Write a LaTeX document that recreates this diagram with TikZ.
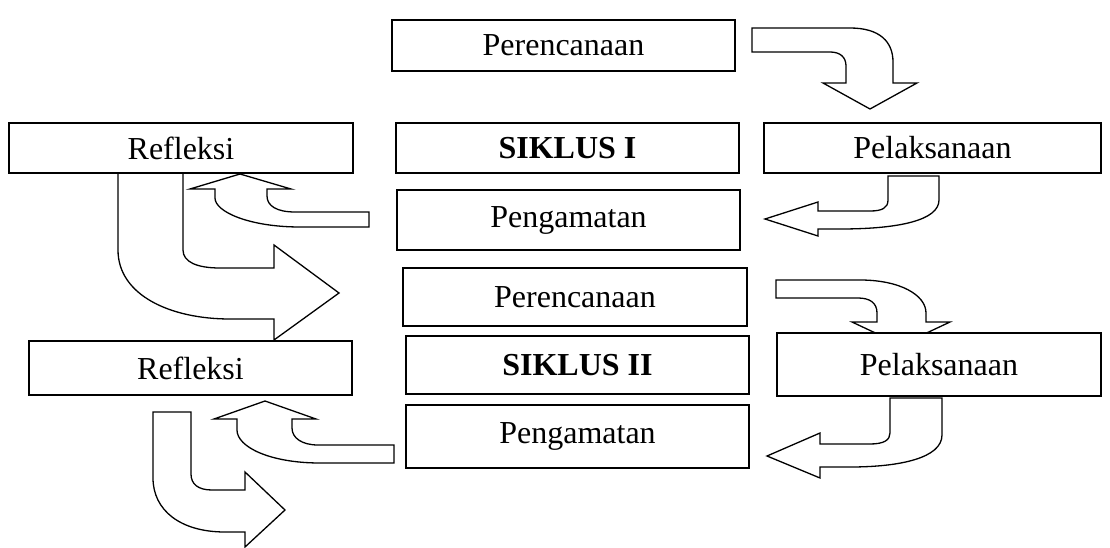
\documentclass[tikz,border=0pt]{standalone}
\usepackage{fontspec}
\setmainfont{Liberation Serif}
\begin{document}
\begin{tikzpicture}[x=1pt,y=-1pt,
  box/.style={draw, fill=white, line width=1.3pt, inner sep=0pt, font=\fontsize{32}{38}\selectfont},
  barrow/.style={draw, fill=white, line width=1.3pt, line join=miter}]
\useasboundingbox (0,0) rectangle (1110,548);
% block arrows
\draw[barrow] (752,28) -- (850,28) .. controls (880,28) and (893,42) .. (893,62) -- (893,83) -- (917,83) -- (870,109) -- (823,83) -- (846,83) -- (846,66) .. controls (846,57) and (840,52) .. (830,52) -- (752,52) -- cycle;
\draw[barrow] (888,176) -- (939,176) -- (939,200) .. controls (939,220) and (900,229) .. (840,229) -- (818,229) -- (818,236) -- (765,219) -- (818,202) -- (818,211) -- (870,211) .. controls (882,211) and (888,208) .. (888,200) -- cycle;
\draw[barrow] (190,189) -- (240,174) -- (291,189) -- (267,189) -- (267,196) .. controls (267,206) and (277,212) .. (295,212) -- (369,212) -- (369,227) -- (300,227) .. controls (250,227) and (215,212) .. (215,198) -- (215,189) -- cycle;
\draw[barrow] (118,173) -- (183,173) -- (183,250) .. controls (183,262) and (197,268) .. (220,268) -- (274,268) -- (274,245) -- (339,293) -- (274,340) -- (274,319) -- (230,319) .. controls (170,319) and (118,295) .. (118,250) -- cycle;
\draw[barrow] (776,280) -- (860,280) .. controls (900,280) and (926,295) .. (926,313) -- (926,322) -- (950,322) -- (901,345) -- (852,322) -- (877,322) -- (877,313) .. controls (877,303) and (870,298) .. (858,298) -- (776,298) -- cycle;
\draw[barrow] (890,398) -- (942,398) -- (942,435) .. controls (942,458) and (900,467) .. (850,467) -- (820,467) -- (820,478) -- (767,456) -- (820,433) -- (820,444) -- (870,444) .. controls (884,444) and (890,440) .. (890,433) -- cycle;
\draw[barrow] (214,419) -- (265,401) -- (316,419) -- (292,419) -- (292,428) .. controls (292,438) and (302,445) .. (318,445) -- (394,445) -- (394,463) -- (320,463) .. controls (270,463) and (237,447) .. (237,430) -- (237,419) -- cycle;
\draw[barrow] (153,412) -- (191,412) -- (191,474) .. controls (191,484) and (198,490) .. (212,490) -- (245,490) -- (245,472) -- (285,510) -- (245,547) -- (245,532) -- (225,532) .. controls (180,532) and (153,510) .. (153,478) -- cycle;
% boxes
\node[box, minimum width=343pt, minimum height=51pt] (p1) at (563.5,45.5) {Perencanaan};
\node[box, minimum width=344pt, minimum height=50pt] (r1) at (181,148) {Refleksi};
\node[box, minimum width=343pt, minimum height=50pt] (s1) at (567.5,148) {\textbf{SIKLUS I}};
\node[box, minimum width=337pt, minimum height=50pt] (l1) at (932.5,148) {Pelaksanaan};
\node[box, minimum width=343pt, minimum height=60pt] (g1) at (568.5,220) {Pengamatan};
\node[box, minimum width=344pt, minimum height=58pt] (p2) at (575,297) {Perencanaan};
\node[box, minimum width=323pt, minimum height=54pt] (r2) at (190.5,368) {Refleksi};
\node[box, minimum width=343pt, minimum height=58pt] (s2) at (577.5,365) {\textbf{SIKLUS II}};
\node[box, minimum width=324pt, minimum height=63pt] (l2) at (939,364.5) {Pelaksanaan};
\node[box, minimum width=343pt, minimum height=63pt] (g2) at (577.5,436.5) {Pengamatan};
\end{tikzpicture}
\end{document}
